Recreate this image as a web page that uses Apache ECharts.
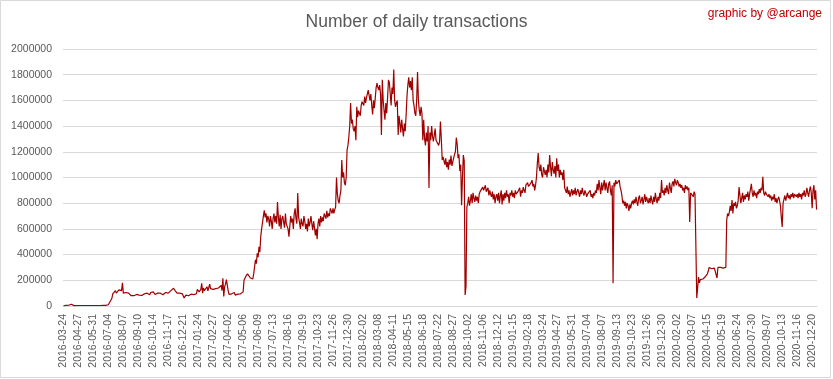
<!DOCTYPE html>
<html><head><meta charset="utf-8">
<script src="https://cdn.jsdelivr.net/npm/echarts@6/dist/echarts.min.js"></script>
<style>html,body{margin:0;padding:0;background:#fff}#c{width:833px;height:379px}</style>
</head><body><div id="c"></div>
<script>
const tickLabels = [
 '2016-03-24','2016-04-27','2016-05-31','2016-07-04','2016-08-07','2016-09-10','2016-10-14','2016-11-17','2016-12-21',
 '2017-01-24','2017-02-27','2017-04-02','2017-05-06','2017-06-09','2017-07-13','2017-08-16','2017-09-19','2017-10-23','2017-11-26','2017-12-30',
 '2018-02-02','2018-03-08','2018-04-11','2018-05-15','2018-06-18','2018-07-22','2018-08-27','2018-10-02','2018-11-06','2018-12-12',
 '2019-01-15','2019-02-18','2019-03-24','2019-04-27','2019-05-31','2019-07-04','2019-08-07','2019-09-13','2019-10-23','2019-11-26','2019-12-30',
 '2020-02-02','2020-03-07','2020-04-15','2020-05-19','2020-06-24','2020-07-30','2020-09-07','2020-10-13','2020-11-16','2020-12-20'
];
// daily transactions in thousands, one reading every second data day
const tx2016 = [
 2,3,4,5,8,12,6,4,10,14,5,4,3,3,4,3,3,
 4,4,4,4,4,4,4,4,4,4,4,4,4,4,4,4,4,
 4,4,4,4,4,4,4,4,4,4,5,5,5,5,5,6,6,
 10,20,35,40,60,95,110,105,120,100,115,110,125,140,110,120,180,
 100,115,95,105,100,90,100,95,85,80,90,85,80,88,82,90,85,
 80,85,78,90,82,88,85,95,80,90,100,85,95,88,105,92,100,
 110,95,90,105,85,100,112,90,100,95,108,88,100,92,105,110,98,
 100,110,105,120,115,130,138,125,118,110,100,105,95,100,90,88,95,
 80,62,70,85,75,90,80,88,82,92,85,95,88,90,100,95,130
];
const tx2017 = [
 120,110,95,130,177,100,140,120,105,130,150,118,125,170,135,120,128,
 130,140,120,135,150,125,140,130,145,160,120,215,75,150,170,205,190,
 120,90,100,85,95,80,90,105,85,95,80,92,88,100,95,90,105,
 110,200,190,230,215,250,240,260,220,205,230,210,250,240,360,330,410,
 380,460,420,540,600,650,700,745,690,720,650,700,680,620,700,660,600,
 680,720,650,700,640,810,690,620,710,600,680,700,650,610,720,640,620,
 600,540,620,700,650,680,600,720,760,680,640,880,690,650,600,680,640,
 620,700,660,600,640,580,680,620,650,700,640,590,660,610,550,600,520,
 640,680,620,700,650,690,660,720,700,680,740,690,720,700,760,740,720,
 760,720,750,770,1000,870,820,800,860,900,1136,1000,1040,960,940,1000,1214,
 1250,1315,1400,1580,1420,1450,1380,1360,1400,1290,1550,1470,1520,1500,1480,1560,1590
];
const tx2018 = [
 1600,1560,1630,1580,1620,1610,1680,1640,1600,1650,1560,1490,1600,1540,1620,1700,1735,
 1700,1680,1720,1650,1330,1760,1600,1520,1450,1580,1500,1620,1760,1740,1650,1560,1700,
 1650,1840,1600,1550,1580,1600,1330,1480,1420,1350,1450,1380,1320,1420,1360,1480,1630,
 1720,1780,1700,1750,1680,1780,1600,1560,1500,1480,1600,1820,1600,1520,1480,1550,1500,
 1290,1450,1300,1250,1350,1280,1400,918,1350,1290,1400,1320,1280,1330,1380,1290,1300,
 1300,1250,1280,1435,1300,1136,1160,1175,1100,1150,1080,1120,1060,1140,1100,1170,1090,
 1120,1150,1180,1200,1310,1260,1150,1180,1050,1100,785,1000,1175,1130,86,150,770,
 800,850,780,820,870,800,880,840,810,860,820,850,800,870,890,900,880,
 925,900,885,940,890,880,920,860,900,870,850,890,830,870,800,850,870,
 820,880,800,860,900,790,870,820,880,840,900,850,870,800,880,860,900
];
const tx2019 = [
 850,880,840,900,870,860,890,880,920,850,900,880,925,900,880,940,925,
 960,930,940,925,960,980,930,950,900,940,1000,1110,1190,1080,1050,1100,1020,
 1000,1080,1050,1020,1060,1000,1100,1040,1175,1080,1010,1120,1060,1030,1090,1000,1150,
 1050,1100,1000,1060,1020,1040,980,1060,920,900,880,930,870,900,850,880,910,
 860,900,870,920,860,890,910,880,850,900,870,920,880,860,900,880,850,
 870,880,860,900,850,870,840,880,860,900,880,950,900,980,920,870,960,
 900,940,980,900,960,920,880,950,970,900,860,940,178,960,930,980,950,
 960,940,980,925,900,860,800,820,780,810,760,800,780,740,790,760,800,
 820,790,830,800,850,810,780,840,860,800,820,850,790,830,870,810,850,
 820,800,840,800,860,820,790,850,810,880,830,800,850,820,880,840,980,
 880,900,860,920,880,940,900,870,960,920,880,950,970,930,990,960,940
];
const tx2020 = [
 980,960,930,950,920,940,900,920,880,940,910,930,900,920,654,880,870,
 880,850,890,870,860,62,140,225,180,205,200,215,210,225,215,230,240,
 250,270,300,295,300,290,298,300,295,305,300,218,300,290,298,300,292,
 300,295,290,310,300,670,720,700,730,780,740,825,720,800,780,810,760,
 780,820,925,860,800,840,880,810,860,830,870,850,890,820,870,860,950,
 880,850,900,860,880,840,890,870,910,880,920,900,1005,880,860,890,870,
 880,850,870,840,860,820,850,830,870,810,840,800,830,850,820,780,690,
 615,800,830,860,820,850,880,840,860,830,870,850,880,840,870,860,850,
 870,840,880,850,870,830,880,860,900,850,870,920,880,850,900,930,880,
 760,900,940,830,900,750
];
const yTicks = { min: 0, max: 2000000, step: 200000 };
const pointsPerLabel = 17;

const values = [].concat(tx2016, tx2017, tx2018, tx2019, tx2020).map(v => v * 1000);
const categories = values.map((v, i) =>
  (i % pointsPerLabel === 0 && tickLabels[i / pointsPerLabel]) ? tickLabels[i / pointsPerLabel] : ('p' + i));

const FONT = '"Liberation Sans", Arial, sans-serif';
const chart = echarts.init(document.getElementById('c'), null, { renderer: 'canvas' });
chart.setOption({
  animation: false,
  backgroundColor: '#ffffff',
  title: [
    { text: 'Number of daily transactions', left: 'center', top: 13, padding: 0,
      textStyle: { fontFamily: FONT, fontSize: 17.5, fontWeight: 'normal', color: '#595959' } },
    { text: 'graphic by @arcange', right: 11, top: 8, padding: 0,
      textStyle: { fontFamily: FONT, fontSize: 12, fontWeight: 'normal', color: '#c00000' } }
  ],
  graphic: [
    { type: 'rect', silent: true, z: -1,
      shape: { x: 0.5, y: 0.5, width: 830, height: 377 },
      style: { fill: 'none', stroke: '#d9d9d9', lineWidth: 1 } }
  ],
  grid: { left: 63, right: 16, top: 49, bottom: 73, outerBoundsMode: 'none' },
  xAxis: {
    type: 'category',
    data: categories,
    boundaryGap: true,
    axisLine: { show: true, lineStyle: { color: '#d9d9d9', width: 1 } },
    axisTick: { show: false },
    splitLine: { show: false },
    axisLabel: { interval: pointsPerLabel - 1, rotate: 90, margin: 8, fontFamily: FONT, fontSize: 10.5, color: '#595959' }
  },
  yAxis: {
    type: 'value',
    min: yTicks.min, max: yTicks.max, interval: yTicks.step,
    axisLine: { show: false },
    axisTick: { show: false },
    splitLine: { lineStyle: { color: '#d9d9d9', width: 1 } },
    axisLabel: { margin: 11, fontFamily: FONT, fontSize: 10.5, color: '#595959', formatter: v => String(v) }
  },
  series: [{
    type: 'line',
    data: values,
    symbol: 'none',
    showSymbol: false,
    lineStyle: { color: '#a00000', width: 1.2 },
    itemStyle: { color: '#a00000' }
  }]
});
</script>
</body></html>
